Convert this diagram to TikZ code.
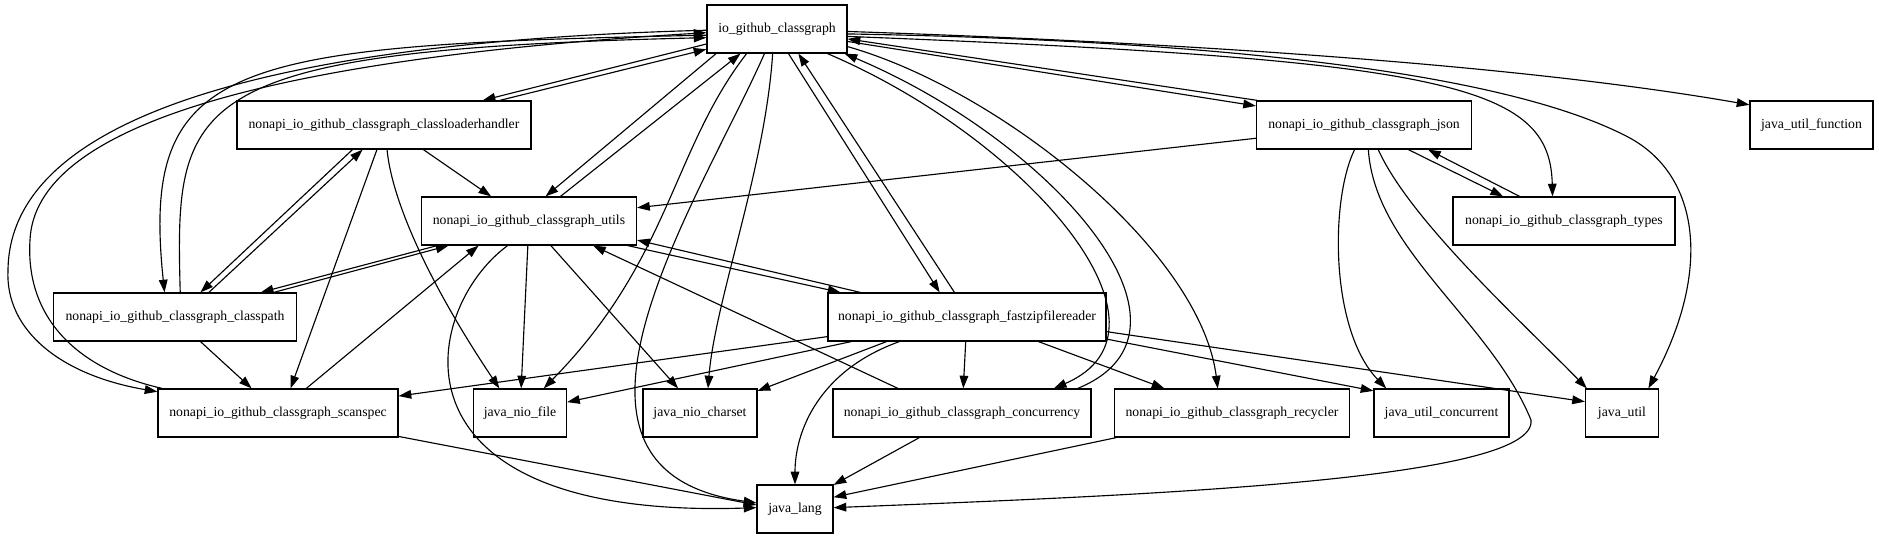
\documentclass[tikz,border=0pt]{standalone}
\usepackage{fontspec}
\setmainfont{Liberation Serif}
\usetikzlibrary{arrows.meta}
\tikzset{
  pkg/.style ={rectangle, draw=black, line width=0.9pt, fill=white, inner sep=0pt,
               minimum height=36pt, font=\fontsize{10.3pt}{12pt}\selectfont},
  dep/.style ={-{Triangle[length=9.5pt,width=6.5pt]}, line width=0.85pt},
}
\begin{document}
\begin{tikzpicture}[x=0.75pt,y=-0.75pt]
\useasboundingbox (0,0) rectangle (1879,539);
\node[pkg, minimum width=105pt]    (cg)    at (777,29)  {io\_github\_classgraph};
\node[pkg, minimum width=220.5pt]  (clh)   at (384,125) {nonapi\_io\_github\_classgraph\_classloaderhandler};
\node[pkg, minimum width=161.25pt] (json)  at (1364,125) {nonapi\_io\_github\_classgraph\_json};
\node[pkg, minimum width=92.25pt]  (func)  at (1811.5,125) {java\_util\_function};
\node[pkg, minimum width=161.25pt] (utils) at (529,221) {nonapi\_io\_github\_classgraph\_utils};
\node[pkg, minimum width=166.5pt]  (types) at (1564,221) {nonapi\_io\_github\_classgraph\_types};
\node[pkg, minimum width=182.25pt] (cpath) at (175,317) {nonapi\_io\_github\_classgraph\_classpath};
\node[pkg, minimum width=208.5pt]  (fzr)   at (967,317) {nonapi\_io\_github\_classgraph\_fastzipfilereader};
\node[pkg, minimum width=180pt]    (scan)  at (278,413) {nonapi\_io\_github\_classgraph\_scanspec};
\node[pkg, minimum width=69.75pt]  (nfile) at (520,413) {java\_nio\_file};
\node[pkg, minimum width=85.5pt]   (nchar) at (700,413) {java\_nio\_charset};
\node[pkg, minimum width=193.5pt]  (conc)  at (962,413) {nonapi\_io\_github\_classgraph\_concurrency};
\node[pkg, minimum width=176.25pt] (recy)  at (1232,413) {nonapi\_io\_github\_classgraph\_recycler};
\node[pkg, minimum width=101.25pt] (juc)   at (1441.5,413) {java\_util\_concurrent};
\node[pkg, minimum width=54.75pt]  (jutil) at (1622,413) {java\_util};
\node[pkg, minimum width=57pt]     (jlang) at (795,509) {java\_lang};

\draw[dep] (cg.-168) -- (clh.14);
\draw[dep] (clh.12.8) -- (cg.-164);
\draw[dep] (cg.-158) -- (utils.56);
\draw[dep] (utils.38) -- (cg.-146);
\draw[dep] (cg.-141) .. controls (672,150) and (670,260) .. (nfile.46);
\draw[dep] (cg.-117) .. controls (700,200) and (520,470) .. (jlang.171);
\draw[dep] (cg.-100) .. controls (765,170) and (715,300) .. (nchar.72);
\draw[dep] (cg.-65) -- (fzr.138);
\draw[dep] (fzr.117) -- (cg.-49);
\draw[dep] (cg.-26) .. controls (1030,140) and (1190,330) .. (conc.15);
\draw[dep] (conc.12) .. controls (1220,330) and (1050,140) .. (cg.-20);
\draw[dep] (cg.-14) .. controls (1000,90) and (1200,250) .. (recy.120);
\draw[dep] (cg.-10.5) -- (json.170.5);
\draw[dep] (json.167) -- (cg.-8);
\draw[dep] (cg.-6) .. controls (1450,60) and (1550,85) .. (types.115);
\draw[dep] (cg.-4) .. controls (1200,40) and (1500,70) .. (1628,137)
           .. controls (1700,175) and (1712,270) .. (jutil.43);
\draw[dep] (cg.-2) .. controls (1250,45) and (1550,70) .. (func.162);
\draw[dep] (cg.-179) .. controls (330,40) and (10,100) .. (8,270)
           .. controls (5,330) and (60,375) .. (scan.170);
\draw[dep] (scan.168) .. controls (80,370) and (25,320) .. (30,240)
           .. controls (35,130) and (250,60) .. (cg.-177);
\draw[dep] (cg.-175) .. controls (230,45) and (140,60) .. (cpath.113);
\draw[dep] (cpath.78) .. controls (175,100) and (180,50) .. (cg.-173);

\draw[dep] (clh.-32) -- (utils.147);
\draw[dep] (clh.-142) -- (cpath.44);
\draw[dep] (cpath.36) -- (clh.-131);
\draw[dep] (clh.-106) -- (scan.63);
\draw[dep] (clh.-83) .. controls (393,210) and (440,300) .. (nfile.130);

\draw[dep] (utils.-165) -- (cpath.16);
\draw[dep] (cpath.14) -- (utils.-163);
\draw[dep] (utils) -- (nfile);
\draw[dep] (utils) -- (nchar);
\draw[dep] (utils.-131) .. controls (420,310) and (380,520) .. (jlang.178);
\draw[dep] (utils.-14) -- (fzr.169.3);
\draw[dep] (fzr.167) -- (utils.-10);

\draw[dep] (cpath.-44) -- (scan.137);
\draw[dep] (scan.41) -- (utils.-154);
\draw[dep] (scan.-11) -- (jlang.174);

\draw[dep] (fzr.-172) -- (scan.8.5);
\draw[dep] (fzr.-168) -- (nfile.13);
\draw[dep] (fzr.-163.7) -- (nchar.21);
\draw[dep] (fzr.-160) .. controls (820,370) and (795,430) .. (jlang.90);
\draw[dep] (fzr) -- (conc);
\draw[dep] (fzr.-19) -- (recy.160);
\draw[dep] (fzr.-9) -- (juc.162);
\draw[dep] (fzr.-6) -- (jutil.163);

\draw[dep] (conc.159) -- (utils.-21.5);
\draw[dep] (conc.-150) -- (jlang.32);
\draw[dep] (recy.-168) -- (jlang.17.5);

\draw[dep] (json.-173.6) -- (utils.7);
\draw[dep] (json.-29) -- (types.158);
\draw[dep] (types.151) -- (json.-21);
\draw[dep] (json.-111) .. controls (1330,200) and (1330,330) .. (juc.156);
\draw[dep] (json.-80) .. controls (1375,250) and (1490,320) .. (1531,420)
           .. controls (1538,480) and (1150,495) .. (jlang.2);
\draw[dep] (json.-60) .. controls (1410,220) and (1520,320) .. (jutil.145);
\end{tikzpicture}
\end{document}
